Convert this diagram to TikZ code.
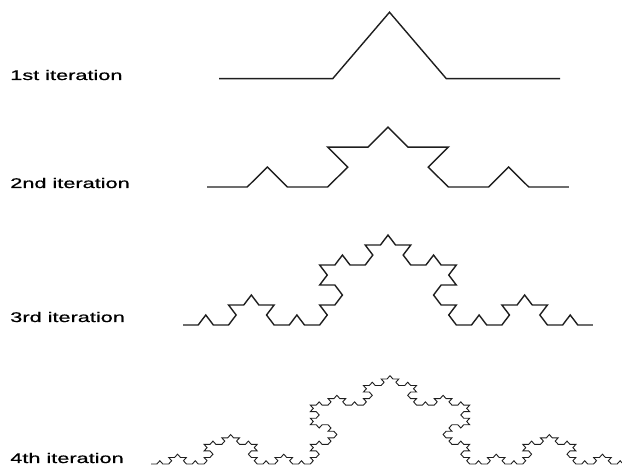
\documentclass[tikz,border=0pt]{standalone}
\usepackage{fontspec}
\setmainfont{Liberation Sans}
\newfontfamily\rotulo[FakeBold=0.6]{Liberation Sans}
\usepackage{xcolor}
\usepackage{tikz}
\definecolor{GrisTrazo}{RGB}{30,30,30}
% direction of segment #1 of a Koch curve (base-4 digits: 0, +60, -60, 0)
\newcommand{\giroKoch}[1]{60*((mod(#1,4)==1)-(mod(#1,4)==2)+(mod(int(#1/4),4)==1)-(mod(int(#1/4),4)==2)+(mod(int(#1/16),4)==1)-(mod(int(#1/16),4)==2)+(mod(int(#1/64),4)==1)-(mod(int(#1/64),4)==2))}

\begin{document}
\begin{tikzpicture}[x=1pt,y=1pt,
  etiqueta/.style={anchor=west,inner sep=0pt,xscale=1.55,font=\rotulo\fontsize{14}{16}\selectfont},
  trazo/.style={GrisTrazo,line width=1.4pt}]
  \path[use as bounding box,clip] (0,0) rectangle (622,468);
  \node[etiqueta] (it1) at (10,393) {1st iteration};
  \node[etiqueta] (it2) at (10,285) {2nd iteration};
  \node[etiqueta] (it3) at (10,151) {3rd iteration};
  \node[etiqueta] (it4) at (10,10) {4th iteration};
  \begin{scope}[shift={(219,389.3)},yscale=0.675]
    \draw[trazo] (0,0)
      \foreach \k [evaluate=\k as \a using \giroKoch{\k}] in {0,...,3} { -- ++(\a:113.67) };
  \end{scope}
  \begin{scope}[shift={(207,281)},yscale=0.572]
    \draw[trazo] (0,0)
      \foreach \k [evaluate=\k as \a using \giroKoch{\k}] in {0,...,15} { -- ++(\a:40.22) };
  \end{scope}
  \begin{scope}[shift={(183,143)},yscale=0.76]
    \draw[trazo] (0,0)
      \foreach \k [evaluate=\k as \a using \giroKoch{\k}] in {0,...,63} { -- ++(\a:15.185) };
  \end{scope}
  \begin{scope}[shift={(151,4)},yscale=0.64]
    \draw[trazo,line width=0.9pt] (0,0)
      \foreach \k [evaluate=\k as \a using \giroKoch{\k}] in {0,...,255} { -- ++(\a:5.901) };
  \end{scope}
\end{tikzpicture}
\end{document}
